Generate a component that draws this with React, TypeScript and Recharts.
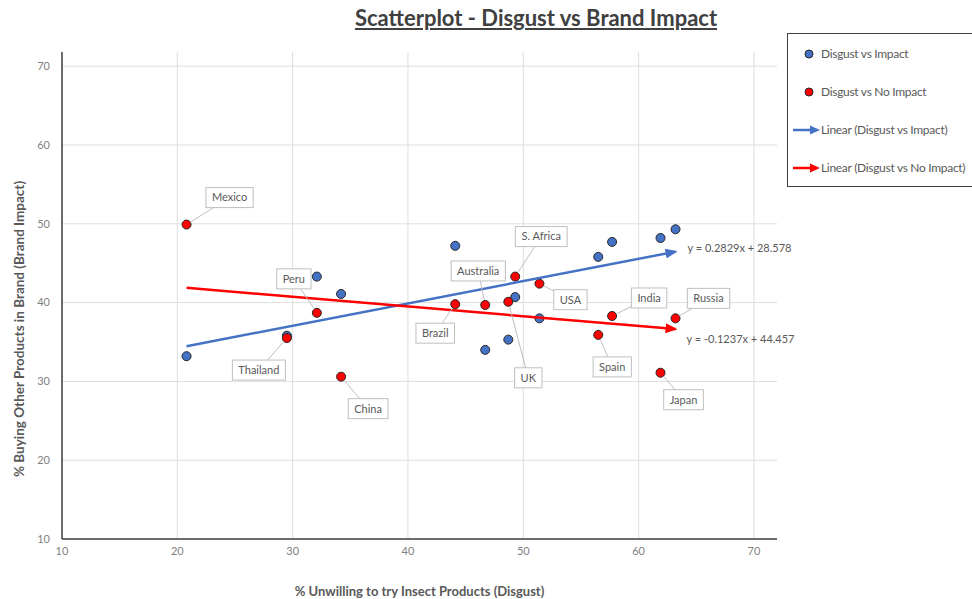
import React from "react";
import { ScatterChart, Scatter, XAxis, YAxis, CartesianGrid, Label } from "recharts";

const countries = ["Mexico", "Thailand", "Peru", "China", "Brazil", "Australia", "UK", "S. Africa", "USA", "Spain", "India", "Japan", "Russia"];
const disgust = [20.8, 29.5, 32.1, 34.2, 44.1, 46.7, 48.7, 49.3, 51.4, 56.5, 57.7, 61.9, 63.2];
const impact = [33.2, 35.8, 43.3, 41.1, 47.2, 34.0, 35.3, 40.7, 38.0, 45.8, 47.7, 48.2, 49.3];
const noImpact = [49.9, 35.5, 38.7, 30.6, 39.8, 39.7, 40.1, 43.3, 42.4, 35.9, 38.3, 31.1, 38.0];

const trendX = [20.8, 63.2];
const impactTrendY = [34.46, 46.46];
const noImpactTrendY = [41.88, 36.64];
const equations = ["y = 0.2829x + 28.578", "y = -0.1237x + 44.457"];

const xDomain = [10, 72];
const yDomain = [10, 71.8];
const xTicks = [10, 20, 30, 40, 50, 60, 70];
const yTicks = [10, 20, 30, 40, 50, 60, 70];

const legendItems = ["Disgust vs Impact", "Disgust vs No Impact", "Linear (Disgust vs Impact)", "Linear (Disgust vs No Impact)"];

const impactData = disgust.map((x, i) => ({ x, y: impact[i], name: countries[i] }));
const noImpactData = disgust.map((x, i) => ({ x, y: noImpact[i], name: countries[i] }));
const impactTrend = trendX.map((x, i) => ({ x, y: impactTrendY[i], eq: i === 1 ? equations[0] : "" }));
const noImpactTrend = trendX.map((x, i) => ({ x, y: noImpactTrendY[i], eq: i === 1 ? equations[1] : "" }));

const BLUE = "#4472c4";
const RED = "#ff0000";
const FONT = "Lato, 'Open Sans', sans-serif";
const TEXT = "#595959";

// callout box centre, relative to its point (px)
const calloutOffset: Record<string, [number, number]> = {
  Mexico: [43, -27],
  Peru: [-23, -34],
  Thailand: [-28, 32],
  China: [27, 32],
  Brazil: [-20, 29],
  Australia: [-7, -34],
  "S. Africa": [26, -40],
  UK: [20, 76],
  USA: [31, 16],
  India: [37, -18],
  Spain: [14, 32],
  Russia: [33, -20],
  Japan: [23, 27],
};

const eqOffset: Record<string, [number, number]> = {
  [equations[0]]: [12, -4],
  [equations[1]]: [11, 10],
};

let ctx: CanvasRenderingContext2D | null = null;
function textWidth(s: string, font: string) {
  if (!ctx) ctx = document.createElement("canvas").getContext("2d");
  if (!ctx) return s.length * 6;
  ctx.font = font;
  return ctx.measureText(s).width;
}

const dot = (fill: string) => (p: any) => (
  <circle cx={p.cx} cy={p.cy} r={4.5} fill={fill} stroke="#262626" strokeWidth={1} />
);

function Callout(p: any) {
  const { cx, cy, payload } = p;
  const off = calloutOffset[payload.name];
  if (!off) return <g />;
  const bx = cx + off[0];
  const by = cy + off[1];
  const w = textWidth(payload.name, "11px Lato") + 12;
  const h = 20;
  const len = Math.hypot(off[0], off[1]);
  const sx = cx + (off[0] / len) * 5;
  const sy = cy + (off[1] / len) * 5;
  return (
    <g>
      <line x1={sx} y1={sy} x2={bx} y2={by} stroke="#bfbfbf" strokeWidth={1} />
      <rect x={bx - w / 2} y={by - h / 2} width={w} height={h} fill="#fff" stroke="#bfbfbf" />
      <text x={bx} y={by} dy="0.35em" textAnchor="middle" fontSize={11} fontFamily={FONT} fill={TEXT}>
        {payload.name}
      </text>
    </g>
  );
}

function EqLabel(p: any) {
  const { cx, cy, payload } = p;
  if (!payload.eq) return <g />;
  const [dx, dy] = eqOffset[payload.eq];
  return (
    <text x={cx + dx} y={cy + dy} dy="0.35em" fontSize={11} fontFamily={FONT} fill={TEXT}>
      {payload.eq}
    </text>
  );
}

// grid only at the tick values, not at the plot edges
const vGrid = ({ offset }: any) =>
  xTicks.map((t) => offset.left + ((t - xDomain[0]) / (xDomain[1] - xDomain[0])) * offset.width);
const hGrid = ({ offset }: any) =>
  yTicks.map((t) => offset.top + offset.height - ((t - yDomain[0]) / (yDomain[1] - yDomain[0])) * offset.height);

function LegendBox() {
  const icon = (i: number) => {
    const c = i % 2 === 0 ? BLUE : RED;
    if (i < 2)
      return (
        <svg width={30} height={14}>
          <circle cx={19} cy={7} r={4} fill={c} stroke="#262626" />
        </svg>
      );
    return (
      <svg width={30} height={14}>
        <line x1={3} y1={7} x2={22} y2={7} stroke={c} strokeWidth={2.5} />
        <path d="M20,2.5 L30,7 L20,11.5 z" fill={c} />
      </svg>
    );
  };
  return (
    <div
      style={{
        position: "absolute",
        left: 787,
        top: 33,
        width: 185,
        height: 152,
        borderTop: "1px solid #404040",
        borderLeft: "1px solid #404040",
        borderBottom: "1px solid #404040",
        background: "#fff",
        overflow: "hidden",
        fontFamily: FONT,
        fontSize: 12,
        letterSpacing: -0.3,
        color: TEXT,
      }}
    >
      {legendItems.map((t, i) => (
        <div
          key={t}
          style={{ position: "absolute", left: 2, top: 12 + i * 38, display: "flex", alignItems: "center", whiteSpace: "nowrap" }}
        >
          {icon(i)}
          <span style={{ marginLeft: 1 }}>{t}</span>
        </div>
      ))}
    </div>
  );
}

export default function App() {
  return (
    <div style={{ position: "absolute", left: 0, top: 0, width: 972, height: 599, background: "#fff", overflow: "hidden" }}>
      <svg width={0} height={0} style={{ position: "absolute" }}>
        <defs>
          <marker id="arrow-blue" viewBox="0 0 12 10" refX={10} refY={5} markerWidth={12} markerHeight={10} markerUnits="userSpaceOnUse" orient="auto">
            <path d="M0,0 L12,5 L0,10 z" fill={BLUE} />
          </marker>
          <marker id="arrow-red" viewBox="0 0 12 10" refX={10} refY={5} markerWidth={12} markerHeight={10} markerUnits="userSpaceOnUse" orient="auto">
            <path d="M0,0 L12,5 L0,10 z" fill={RED} />
          </marker>
        </defs>
      </svg>
      <div
        style={{
          position: "absolute",
          left: 0,
          width: 1072,
          top: 4,
          textAlign: "center",
          fontFamily: FONT,
          fontWeight: 700,
          fontSize: 22,
          color: "#404040",
          textDecoration: "underline",
        }}
      >
        Scatterplot - Disgust vs Brand Impact
      </div>
      <ScatterChart width={972} height={599} margin={{ top: 52, right: 195, bottom: 0, left: 0 }}>
        <CartesianGrid
          stroke="#dedede"
          strokeWidth={1}
          verticalCoordinatesGenerator={vGrid}
          horizontalCoordinatesGenerator={hGrid}
        />
        <XAxis
          type="number"
          dataKey="x"
          domain={xDomain}
          ticks={xTicks}
          height={60}
          tickLine={false}
          axisLine={{ stroke: "#404040", strokeWidth: 1.5 }}
          tick={{ fill: "#7f7f7f", fontSize: 11, fontFamily: FONT }}
        >
          <Label
            value="% Unwilling to try Insect Products (Disgust)"
            position="insideBottom"
            offset={3}
            style={{ fill: TEXT, fontSize: 13, fontWeight: 700, fontFamily: FONT }}
          />
        </XAxis>
        <YAxis
          type="number"
          dataKey="y"
          domain={yDomain}
          ticks={yTicks}
          width={62}
          tickLine={false}
          tickMargin={6}
          axisLine={{ stroke: "#404040", strokeWidth: 1.5 }}
          tick={{ fill: "#7f7f7f", fontSize: 11, fontFamily: FONT }}
        >
          <Label
            content={() => (
              <text
                transform="translate(19,329) rotate(-90)"
                textAnchor="middle"
                dy="0.35em"
                fill={TEXT}
                fontSize={13.5}
                fontWeight={700}
                fontFamily={FONT}
              >
                % Buying Other Products in Brand (Brand Impact)
              </text>
            )}
          />
        </YAxis>
        <Scatter data={impactData} shape={dot(BLUE)} isAnimationActive={false} />
        <Scatter data={noImpactData} shape={dot(RED)} isAnimationActive={false} />
        <Scatter
          data={impactTrend}
          line={{ stroke: BLUE, strokeWidth: 2.5, markerEnd: "url(#arrow-blue)" } as any}
          shape={EqLabel}
          isAnimationActive={false}
        />
        <Scatter
          data={noImpactTrend}
          line={{ stroke: RED, strokeWidth: 2.5, markerEnd: "url(#arrow-red)" } as any}
          shape={EqLabel}
          isAnimationActive={false}
        />
        <Scatter data={noImpactData} shape={Callout} isAnimationActive={false} />
      </ScatterChart>
      <LegendBox />
    </div>
  );
}
